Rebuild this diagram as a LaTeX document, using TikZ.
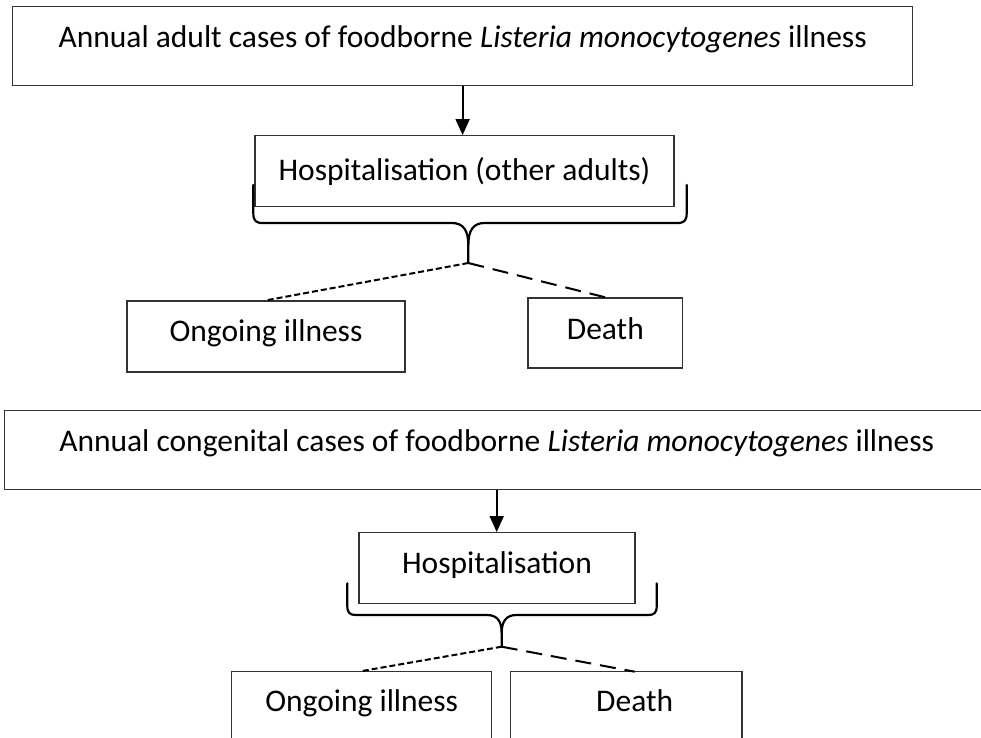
\documentclass[tikz,border=0pt]{standalone}
\usepackage{fontspec}
\setmainfont{Carlito}
\usetikzlibrary{arrows.meta}
\begin{document}
\begin{tikzpicture}[x=1pt,y=-1pt,
  box/.style={draw=black!80, line width=1.3pt, inner sep=0pt, text height=20pt,
    font=\fontsize{31.5}{38}\selectfont},
  arr/.style={line width=2pt, -{Triangle[length=16pt,width=14pt]}},
  bracepath/.style={line width=2.2pt, line join=round, line cap=round},
  dotline/.style={line width=2pt, dash pattern=on 6pt off 3pt},
  dashline/.style={line width=2pt, dash pattern=on 16pt off 9pt}]
\useasboundingbox (0,0) rectangle (981,737);
\clip (0,0) rectangle (981,737);
\fill[white] (0,0) rectangle (981,737);

% adult part
\node[box, minimum width=900.2pt, minimum height=79pt, text depth=18.4pt] (top) at (462.6,46.2)
  {Annual adult cases of foodborne \textit{Listeria monocytogenes} illness};
\node[box, minimum width=419pt, minimum height=71pt, text depth=0.7pt] (hosp1) at (464.5,171.2)
  {Hospitalisation (other adults)};
\node[box, minimum width=278pt, minimum height=71pt, text depth=9.6pt] (ong1) at (266,336.5)
  {Ongoing illness};
\node[box, minimum width=154.7pt, minimum height=70pt, text depth=6.7pt] (death1) at (605.35,333)
  {Death};
\draw[arr] (top.south) -- (top.south |- hosp1.north);
\coordinate (tip1) at (468.3,263);
\draw[bracepath] (253.3,185) -- (253.3,213) .. controls (253.3,221) and (256,223) .. (263,223)
  -- (452,223) .. controls (463,223) and (468.3,230) .. (468.3,245) -- (tip1);
\draw[bracepath] (686.7,185) -- (686.7,213) .. controls (686.7,221) and (684,223) .. (677,223)
  -- (484.6,223) .. controls (473.6,223) and (468.3,230) .. (468.3,245);
\draw[dotline] (tip1) -- (ong1.north);
\draw[dashline] (tip1) -- (death1.north);

% congenital part
\node[box, minimum width=984pt, minimum height=78.6pt, text depth=16.6pt] (cong) at (496.7,450)
  {Annual congenital cases of foodborne \textit{Listeria monocytogenes} illness};
\node[box, minimum width=276pt, minimum height=70.6pt, text depth=8.7pt] (hosp2) at (497,568)
  {Hospitalisation};
\node[box, minimum width=260pt, minimum height=90pt, text depth=30pt] (ong2) at (361.7,716.7)
  {Ongoing illness};
\node[box, minimum width=231.3pt, minimum height=90pt, text depth=30pt] (death2) at (626.35,716.7)
  {\hspace*{16.7pt}Death};
\draw[arr] (cong.south) -- (cong.south |- hosp2.north);
\coordinate (tip2) at (501.7,646.7);
\coordinate (d2end) at (634.7,671.7);
\draw[bracepath] (347.3,583.3) -- (347.3,606) .. controls (347.3,613) and (350,615) .. (356,615)
  -- (487,615) .. controls (497,615) and (501.7,621) .. (501.7,633) -- (tip2);
\draw[bracepath] (656.7,583.3) -- (656.7,606) .. controls (656.7,613) and (654,615) .. (648,615)
  -- (516.4,615) .. controls (506.4,615) and (501.7,621) .. (501.7,633);
\draw[dotline] (tip2) -- (ong2.north);
\draw[dashline] (tip2) -- (d2end);
\end{tikzpicture}
\end{document}
